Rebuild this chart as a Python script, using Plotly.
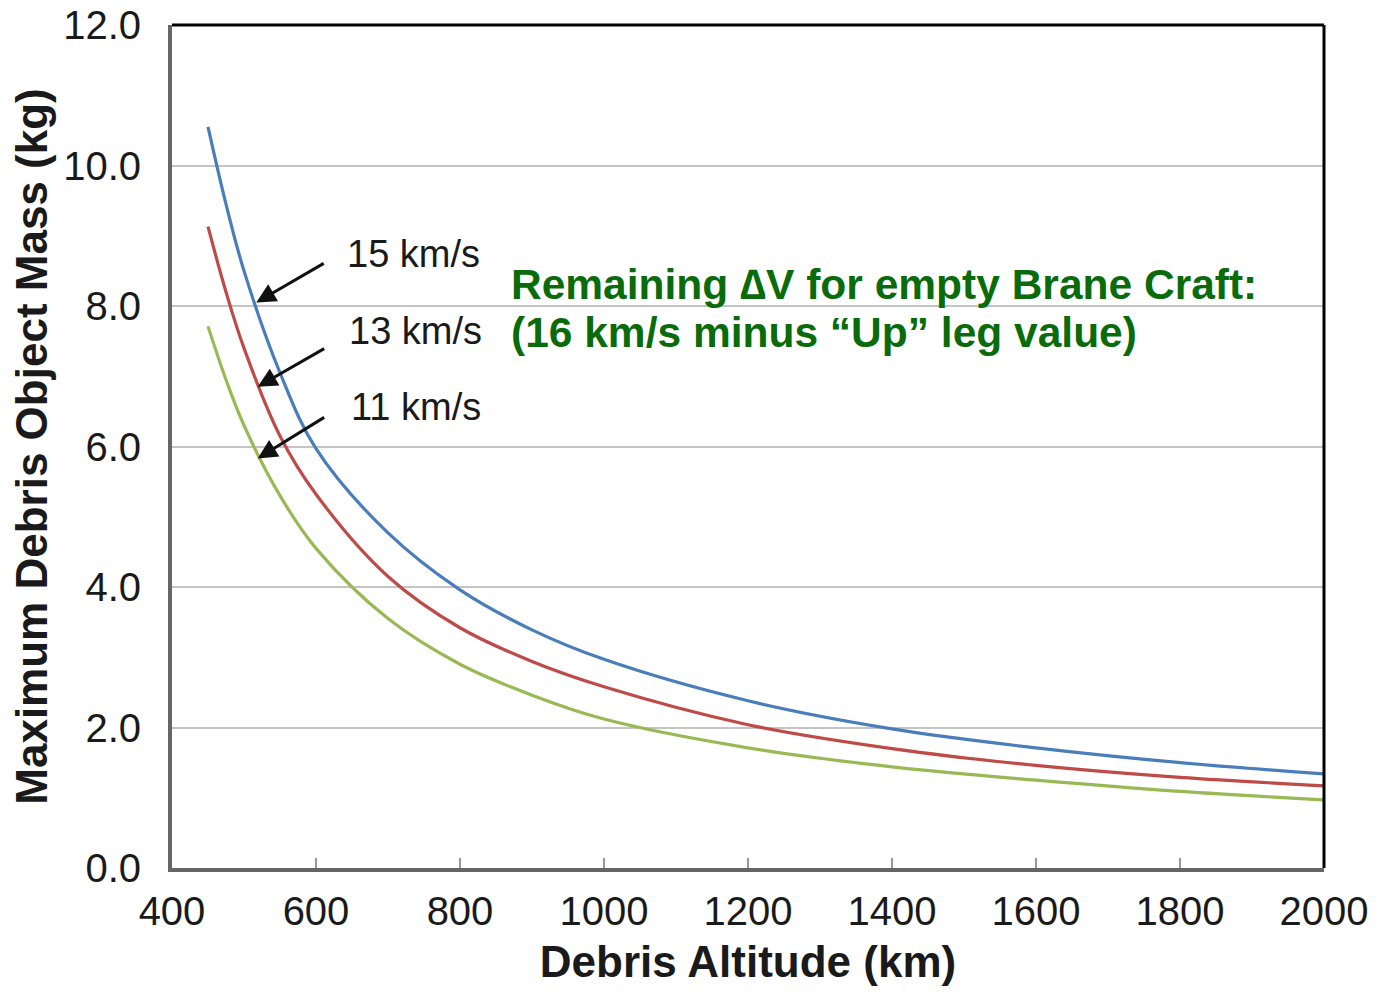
import plotly.graph_objects as go

# Debris altitude (km) sample points
alt_15 = [450, 475, 500, 550, 600, 700, 800, 900, 1000, 1200, 1400, 1600, 1800, 2000]
mass_15 = [10.55, 9.45, 8.5, 7.05, 5.97, 4.77, 3.96, 3.39, 2.97, 2.38, 1.98, 1.71, 1.50, 1.34]

alt_13 = [450, 475, 500, 550, 600, 700, 800, 900, 1000, 1200, 1400, 1600, 1800, 2000]
mass_13 = [9.13, 8.2, 7.4, 6.15, 5.32, 4.15, 3.42, 2.94, 2.58, 2.04, 1.70, 1.46, 1.29, 1.17]

alt_11 = [450, 475, 500, 550, 600, 700, 800, 900, 1000, 1200, 1400, 1600, 1800, 2000]
mass_11 = [7.71, 6.95, 6.3, 5.3, 4.55, 3.55, 2.90, 2.46, 2.12, 1.71, 1.44, 1.25, 1.09, 0.97]

series_names = ["15 km/s", "13 km/s", "11 km/s"]
series_colors = ["#4a7ebb", "#be4b48", "#98b954"]

x_ticks = [400, 600, 800, 1000, 1200, 1400, 1600, 1800, 2000]
y_ticks = [0, 2, 4, 6, 8, 10, 12]

FONT = "Liberation Sans, Arial, sans-serif"

fig = go.Figure()
for xs, ys, name, col in zip([alt_15, alt_13, alt_11], [mass_15, mass_13, mass_11], series_names, series_colors):
    fig.add_trace(go.Scatter(x=xs, y=ys, mode="lines", name=name,
                             line=dict(color=col, width=3.2, shape="spline", smoothing=1.0),
                             showlegend=False))

# Arrow annotations (tip on curve, tail toward label)
arrow_tips = [(517, 8.05), (519, 6.85), (519, 5.83)]
arrow_offsets = [(69, -40), (68, -39), (68, -42)]
for (tx, ty), (ax, ay) in zip(arrow_tips, arrow_offsets):
    fig.add_annotation(x=tx, y=ty, ax=ax, ay=ay, text="", showarrow=True,
                       arrowhead=2, arrowsize=1.3, arrowwidth=3, arrowcolor="#111111",
                       axref="pixel", ayref="pixel")

label_pos = [(640, 8.74), (643, 7.64), (646, 6.56)]
for (lx, ly), name in zip(label_pos, series_names):
    fig.add_annotation(x=lx, y=ly, text=name, showarrow=False, xanchor="left", yanchor="middle",
                       font=dict(family=FONT, size=38, color="#1a1a1a"))

green = "#0a6b0a"
fig.add_annotation(x=868, y=8.30, text="<b>Remaining \u2206V for empty Brane Craft:</b>", showarrow=False,
                   xanchor="left", yanchor="middle", font=dict(family=FONT, size=42.5, color=green))
fig.add_annotation(x=868, y=7.62, text="<b>(16 km/s minus \u201cUp\u201d leg value)</b>", showarrow=False,
                   xanchor="left", yanchor="middle", font=dict(family=FONT, size=42.5, color=green))

# top and right border lines
fig.add_shape(type="line", xref="paper", yref="paper", x0=0, x1=1, y0=1, y1=1,
              line=dict(color="#000000", width=3))
fig.add_shape(type="line", xref="paper", yref="paper", x0=1, x1=1, y0=0, y1=1,
              line=dict(color="#000000", width=3))

fig.update_layout(
    width=1381, height=992,
    margin=dict(l=172, r=57, t=25, b=124),
    paper_bgcolor="white", plot_bgcolor="white",
    font=dict(family=FONT, color="#1a1a1a"),
    xaxis=dict(range=[400, 2000], tickvals=x_ticks, ticktext=[str(v) for v in x_ticks],
               automargin=False,
               showgrid=False, zeroline=False,
               showline=True, linecolor="#666666", linewidth=4,
               ticks="inside", ticklen=10, tickwidth=1.5, tickcolor="#999999",
               tickfont=dict(size=40, color="#1a1a1a"), ticklabelstandoff=5,
               title=dict(text="<b>Debris Altitude (km)</b>", font=dict(size=44, color="#1a1a1a"), standoff=15)),
    yaxis=dict(range=[0, 12], tickvals=y_ticks, ticktext=["%.1f" % v for v in y_ticks],
               automargin=False,
               showgrid=True, gridcolor="#c4c4c4", gridwidth=2, zeroline=False,
               showline=True, linecolor="#666666", linewidth=4,
               ticks="", tickfont=dict(size=40, color="#1a1a1a"), ticklabelstandoff=19,
               title=dict(text="<b>Maximum Debris Object Mass (kg)</b>", font=dict(size=44, color="#1a1a1a"), standoff=3)),
)

fig.write_html("out.html")
